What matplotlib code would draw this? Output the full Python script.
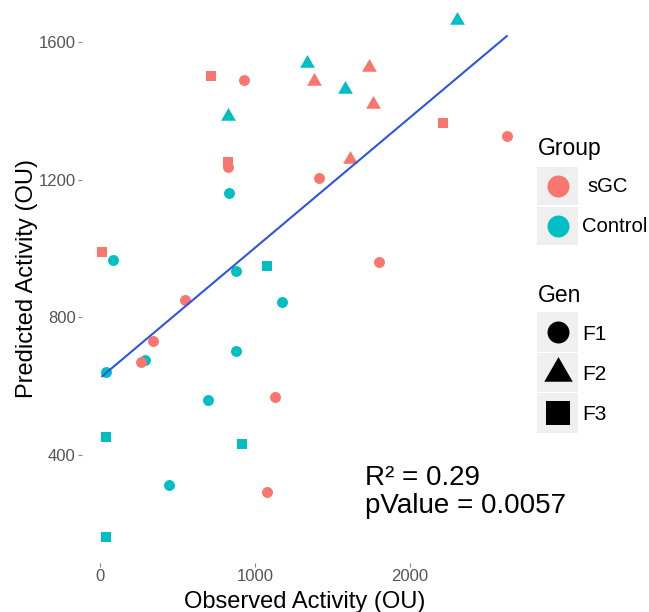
import numpy as np
import pandas as pd
import matplotlib
matplotlib.use("Agg")
import matplotlib.pyplot as plt
from matplotlib.patches import Rectangle
from matplotlib.path import Path

#DATA

sgc_observed = [714, 931, 1381, 1735, 1763, 2215, 2624, 1613, 826, 826, 1413, 15, 1802, 550, 344, 262, 1129, 1075]
sgc_predicted = [1500, 1489, 1486, 1525, 1420, 1365, 1326, 1259, 1250, 1237, 1205, 991, 960, 852, 732, 671, 570, 295]
sgc_gen = ['F3', 'F1', 'F2', 'F2', 'F2', 'F3', 'F1', 'F2', 'F3', 'F1', 'F1', 'F3', 'F1', 'F1', 'F1', 'F1', 'F1', 'F1']

control_observed = [2301, 1334, 1581, 826, 830, 82, 1079, 877, 1174, 875, 290, 39, 695, 39, 914, 447, 39]
control_predicted = [1663, 1539, 1462, 1385, 1162, 967, 950, 934, 844, 703, 678, 641, 562, 453, 434, 315, 163]
control_gen = ['F2', 'F2', 'F2', 'F2', 'F1', 'F1', 'F3', 'F1', 'F1', 'F1', 'F1', 'F1', 'F1', 'F3', 'F3', 'F1', 'F3']

group_labels = ['sGC', 'Control']
gen_labels = ['F1', 'F2', 'F3']

fit_slope = 0.378
fit_intercept = 624
r_squared = 0.29
p_value = 0.0057

x_ticks = [0, 1000, 2000]
y_ticks = [400, 800, 1200, 1600]

#STYLE

plt.rcParams['font.family'] = ['Liberation Sans', 'DejaVu Sans']

group_colors = {'sGC': '#F8766D', 'Control': '#00BFC4'}

# equilateral triangle like ggplot shape 17
tri = Path([(-0.5, -0.289), (0.5, -0.289), (0, 0.577), (-0.5, -0.289)],
           [Path.MOVETO, Path.LINETO, Path.LINETO, Path.CLOSEPOLY])
gen_markers = {'F1': 'o', 'F2': tri, 'F3': 's'}
gen_sizes = {'F1': 62, 'F2': 150, 'F3': 58}
legend_sizes = {'F1': 250, 'F2': 560, 'F3': 290}

#TABLE

data = pd.concat([
    pd.DataFrame({'observed': control_observed, 'predicted': control_predicted,
                  'group': 'Control', 'gen': control_gen}),
    pd.DataFrame({'observed': sgc_observed, 'predicted': sgc_predicted,
                  'group': 'sGC', 'gen': sgc_gen}),
], ignore_index=True)

#PLOT

W, H = 649, 612
fig = plt.figure(figsize=(W / 100, H / 100), dpi=100)

# panel in pixels: left 82, right 527, top -6, bottom 563
ax = fig.add_axes([82 / W, (H - 563) / H, 445 / W, 569 / H])

for grp in ['Control', 'sGC']:
    for gen in gen_labels:
        sub = data[(data['group'] == grp) & (data['gen'] == gen)]
        ax.scatter(sub['observed'], sub['predicted'], s=gen_sizes[gen],
                   marker=gen_markers[gen], color=group_colors[grp],
                   linewidths=0, zorder=2)

# regression line over data range
fit_x = np.array([data['observed'].min(), data['observed'].max()])
ax.plot(fit_x, fit_intercept + fit_slope * fit_x, color='#2E55E0', lw=1.5, zorder=3)

# ggplot like 5% expansion
def expand(values):
    lo, hi = min(values), max(values)
    pad = (hi - lo) * 0.05
    return lo - pad, hi + pad

ax.set_xlim(expand(data['observed']))
ax.set_ylim(expand(data['predicted']))
ax.set_xticks(x_ticks)
ax.set_yticks(y_ticks)

for side in ax.spines:
    ax.spines[side].set_visible(False)

ax.tick_params(length=3, width=0.8, color='#8a8a8a', pad=1.5,
               labelsize=12, labelcolor='#555555')

ax.set_xlabel('Observed Activity (OU)', fontsize=17, va='baseline')
ax.xaxis.set_label_coords(0.5, (563 - 608) / 569)
ax.set_ylabel('Predicted Activity (OU)', fontsize=17, va='center')
ax.yaxis.set_label_coords((27 - 82) / 445, 0.5)

ax.text(1710, 313, f'R\u00b2 = {r_squared}', fontsize=20, va='baseline', ha='left')
ax.text(1710, 232, f'pValue = {p_value}', fontsize=20, va='baseline', ha='left')

#LEGEND (drawn by hand in pixel space)

lax = fig.add_axes([0, 0, 1, 1])
lax.set_xlim(0, W)
lax.set_ylim(H, 0)
lax.axis('off')
lax.patch.set_visible(False)

key_bg = '#EFEFEF'

lax.text(538, 155, 'Group', fontsize=16.5, va='baseline', ha='left')
group_tops = [167, 207]
group_text_x = [587, 582]
for lab, top, tx in zip(group_labels, group_tops, group_text_x):
    lax.add_patch(Rectangle((537, top), 41, 38, color=key_bg, lw=0))
    lax.scatter([557.5], [top + 19], s=250, marker='o', color=group_colors[lab], linewidths=0)
    lax.text(tx, top + 20, lab, fontsize=14.6, va='center', ha='left')

lax.text(538, 302, 'Gen', fontsize=16.5, va='baseline', ha='left')
gen_tops = [312, 352.5, 393]
for lab, top in zip(gen_labels, gen_tops):
    lax.add_patch(Rectangle((537, top), 41, 39.5, color=key_bg, lw=0))
    lax.scatter([557.5], [top + 20], s=legend_sizes[lab], marker=gen_markers[lab],
                color='black', linewidths=0)
    lax.text(582, top + 22, lab, fontsize=15, va='center', ha='left')

fig.savefig('out.png', dpi=100)
